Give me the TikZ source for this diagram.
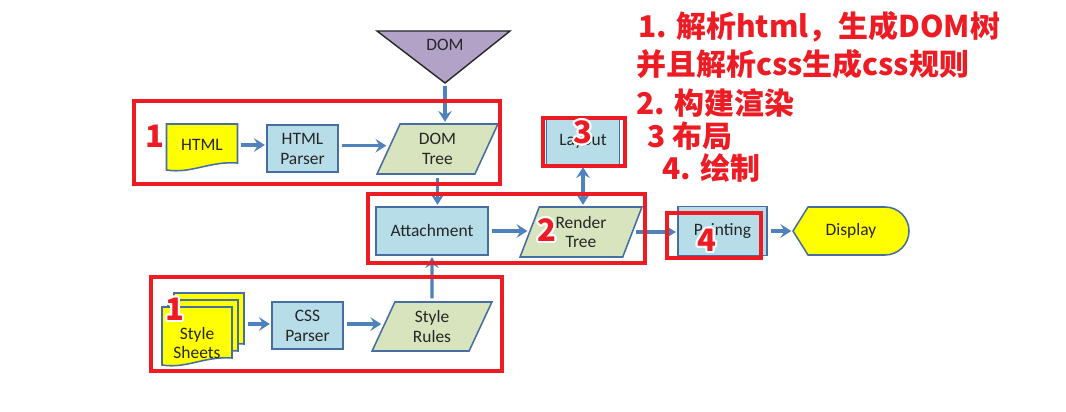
\documentclass[tikz,border=0pt]{standalone}
\usepackage{fontspec}
\setmainfont{Carlito}
\newfontfamily\cjk{Noto Sans CJK SC}
\usepackage{contour}
\contourlength{1.3pt}
\usetikzlibrary{arrows.meta,positioning,calc,shapes.geometric}
\definecolor{boxblue}{RGB}{183,221,232}
\definecolor{boxgreen}{RGB}{215,228,189}
\definecolor{edgeblue}{RGB}{70,110,160}
\definecolor{flowblue}{RGB}{79,129,189}
\definecolor{domviolet}{RGB}{179,162,199}
\definecolor{hlred}{RGB}{237,28,36}
\definecolor{docyellow}{RGB}{255,255,0}
\definecolor{diagtext}{RGB}{38,38,38}
\newcommand\diagfont{\fontsize{12.4}{14.2}\selectfont\color{diagtext}}
\tikzset{
  proc/.style={draw=edgeblue, fill=boxblue, line width=1.1pt, inner sep=0pt,
               align=center, font=\diagfont},
  data/.style={trapezium, trapezium left angle=70, trapezium right angle=110,
               trapezium stretches=true, draw=edgeblue, fill=boxgreen, line width=1.1pt,
               inner sep=0pt, align=center, font=\diagfont},
  flow/.style={-{Stealth[length=2.7mm,width=3.4mm,inset=1mm]}, flowblue, line width=2.3pt,
               shorten <=2pt, shorten >=1pt},
  twoway/.style={{Stealth[length=2.7mm,width=3.4mm,inset=1mm]}-{Stealth[length=2.7mm,width=3.4mm,inset=1mm]},
               flowblue, line width=2.3pt, shorten <=1pt, shorten >=1pt},
  sheetln/.style={draw=edgeblue, fill=docyellow, line width=1.1pt},
  hlbox/.style={draw=hlred, line width=2.2pt},
  hlnum/.style={text=hlred, inner sep=0pt, font=\cjk\bfseries\fontsize{22}{22}\selectfont},
  note/.style={anchor=west, text=hlred, inner sep=0pt, font=\cjk\bfseries\fontsize{21.3}{24}\selectfont},
  pics/docsheet/.style 2 args={code={
    \draw[sheetln] (-#1,-#2) -- (#1,-#2) -- (#1,#2-7)
      .. controls (0.2*#1,#2-9) and (-0.3*#1,#2+4) .. (-#1,#2) -- cycle;}},
}

\begin{document}
\begin{tikzpicture}[x=0.025cm, y=-0.025cm]
  \useasboundingbox (0,0) rectangle (1066,412);
  % DOM source
  \draw[fill=domviolet, draw=black!85, line width=1pt] (377,31) -- (510,31) -- (445,83) -- cycle;
  \node[font=\diagfont] (dom) at (445,45) {DOM};
  \coordinate (domtip) at (445,83);

  % html branch
  \pic at (202,147) {docsheet={35.5}{23}};
  \node[font=\diagfont, minimum width=1.775cm, minimum height=1.15cm, inner sep=0pt] (html) at (202,145) {HTML};
  \node[proc, minimum width=1.775cm, minimum height=1.175cm] (htmlp) at (302.5,148.5) {HTML\\Parser};
  \node[data, minimum width=3.025cm, minimum height=1.25cm] (dtree) at (437.5,149) {DOM\\Tree};

  % css branch
  \pic at (209,322) {docsheet={35}{29}};
  \pic at (203,329) {docsheet={35}{29}};
  \pic at (197,336) {docsheet={35}{29}};
  \node[font=\diagfont, align=center] (sheets) at (197,343) {Style\\Sheets};
  \coordinate (sheetsout) at (245,324);
  \node[proc, minimum width=1.775cm, minimum height=1.175cm] (cssp) at (307.5,325.5) {CSS\\Parser};
  \node[data, minimum width=3.0cm, minimum height=1.225cm] (srules) at (432,326.5) {Style\\Rules};

  % render path
  \node[proc, minimum width=2.8cm, minimum height=1.2cm] (attach) at (432,231) {Attachment};
  \node[data, minimum width=3.05cm, minimum height=1.25cm] (rtree) at (581,232) {Render\\Tree};
  \node[proc, minimum width=1.825cm, minimum height=1.2cm] (layout) at (583,141) {Layout};
  \node[proc, minimum width=2.225cm, minimum height=1.225cm] (paint) at (722.5,231) {Painting};
  \draw[sheetln] (793,231) -- (808,207) -- (885,207) arc[start angle=-90, end angle=90, radius=24]
    -- (808,255) -- cycle;
  \node[font=\diagfont, minimum width=2.9cm, inner sep=0pt] (disp) at (851,231) {Display};

  \draw[flow] (domtip) -- (domtip |- dtree.north);
  \draw[flow] (html.east) -- (html.east -| htmlp.west);
  \draw[flow] ([yshift=2pt]htmlp.east) -- ([yshift=2pt]htmlp.east -| dtree.west);
  \draw[flow] (dtree.south) -- (dtree.south |- attach.north);
  \draw[flow] (sheetsout) -- (sheetsout -| cssp.west);
  \draw[flow] ([yshift=1pt]cssp.east) -- ([yshift=1pt]cssp.east -| srules.west);
  \draw[flow] (srules.north) -- (attach.south);
  \draw[flow] (attach.east) -- (attach.east -| rtree.west);
  \draw[twoway] (layout.south) -- (layout.south |- rtree.north);
  \draw[flow] (rtree.east) -- (rtree.east -| paint.west);
  \draw[flow] (paint.east) -- (disp.west);

  % highlight boxes
  \draw[hlbox] (134,101) rectangle (500,184);
  \draw[hlbox] (368,194) rectangle (645,263);
  \draw[hlbox] (543,118) rectangle (625,166);
  \draw[hlbox] (667,213) rectangle (761,258);
  \draw[hlbox] (151,277) rectangle (502,371);
  \node[hlnum] (num1a) at (155,137) {\contour{white}{1}};
  \node[hlnum] (num1b) at (175,310) {\contour{white}{1}};
  \node[hlnum] (num2) at (547,231) {\contour{white}{2}};
  \node[hlnum] (num3) at (583,133) {\contour{white}{3}};
  \node[hlnum] (num4) at (707,241) {\contour{white}{4}};

  % steps
  \node[note] (note1) at (638,27) {1. 解析html，生成DOM树};
  \node[note] (note2) at (636,64) {并且解析css生成css规则};
  \node[note] (note3) at (636,103) {2. 构建渲染};
  \node[note] (note4) at (647,136) {3 布局};
  \node[note] (note5) at (662,168) {4. 绘制};
\end{tikzpicture}
\end{document}
